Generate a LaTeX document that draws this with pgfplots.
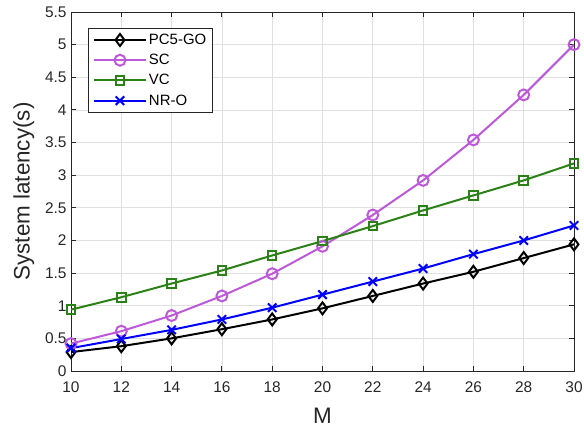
\documentclass[border=0pt]{standalone}
\usepackage{pgfplots}
\pgfplotsset{compat=1.18}
\usepackage{fontspec}
\setmainfont{Liberation Sans}

\definecolor{scpurple}{RGB}{190,88,218}
\definecolor{vcgreen}{RGB}{42,130,22}
\definecolor{axgray}{RGB}{38,38,38}

\begin{document}
\begin{tikzpicture}
\path[use as bounding box] (0,0) rectangle (584bp,432bp);
\begin{axis}[
  at={(71bp,61bp)}, anchor=south west,
  scale only axis, width=503bp, height=359bp,
  xmin=10, xmax=30, ymin=0, ymax=5.5,
  xtick={10,12,...,30},
  ytick={0,0.5,...,5.5},
  /pgf/number format/assume math mode=true,
  yticklabel style={/pgf/number format/fixed, xshift=-1bp},
  xticklabel style={yshift=-7bp},
  tick label style={font=\fontsize{15.5}{18}\selectfont, text=axgray},
  grid=major,
  major grid style={draw=black!12, line width=0.8pt},
  axis line style={draw=axgray, line width=1pt},
  tick style={draw=axgray, line width=1pt},
  tick align=inside,
  major tick length=5bp,
  xlabel={M}, ylabel={System latency(s)},
  label style={font=\fontsize{22.5}{26}\selectfont, text=axgray},
  xlabel style={yshift=-9bp},
  ylabel style={yshift=4bp},
  legend style={at={(rel axis cs:0.034,0.955)}, anchor=north west,
    draw=axgray, line width=0.8pt, font=\fontsize{15}{18}\selectfont,
    row sep=4.3bp, inner xsep=4.5pt, inner ysep=3.5pt},
  legend cell align=left,
  legend image code/.code={
    \draw[mark repeat=2, mark phase=2] plot coordinates {(0bp,0bp) (26bp,0bp) (52bp,0bp)};
  },
]
\addplot[black, line width=2pt, mark=diamond, mark size=6pt, mark options={solid}] coordinates {
  (10,0.29) (12,0.38) (14,0.50) (16,0.64) (18,0.79) (20,0.96)
  (22,1.15) (24,1.34) (26,1.52) (28,1.73) (30,1.94)};
\addlegendentry{PC5-GO}
\addplot[scpurple, line width=2pt, mark=o, mark size=5.5pt, mark options={solid}] coordinates {
  (10,0.42) (12,0.61) (14,0.85) (16,1.15) (18,1.49) (20,1.91)
  (22,2.39) (24,2.92) (26,3.54) (28,4.23) (30,5.00)};
\addlegendentry{SC}
\addplot[vcgreen, line width=2pt, mark=square, mark size=4.3pt, mark options={solid}] coordinates {
  (10,0.94) (12,1.13) (14,1.34) (16,1.54) (18,1.77) (20,1.99)
  (22,2.22) (24,2.46) (26,2.69) (28,2.92) (30,3.18)};
\addlegendentry{VC}
\addplot[blue, line width=2pt, mark=x, mark size=6pt, mark options={solid}] coordinates {
  (10,0.35) (12,0.49) (14,0.63) (16,0.79) (18,0.97) (20,1.17)
  (22,1.37) (24,1.57) (26,1.79) (28,2.00) (30,2.23)};
\addlegendentry{NR-O}
\end{axis}
\end{tikzpicture}
\end{document}
